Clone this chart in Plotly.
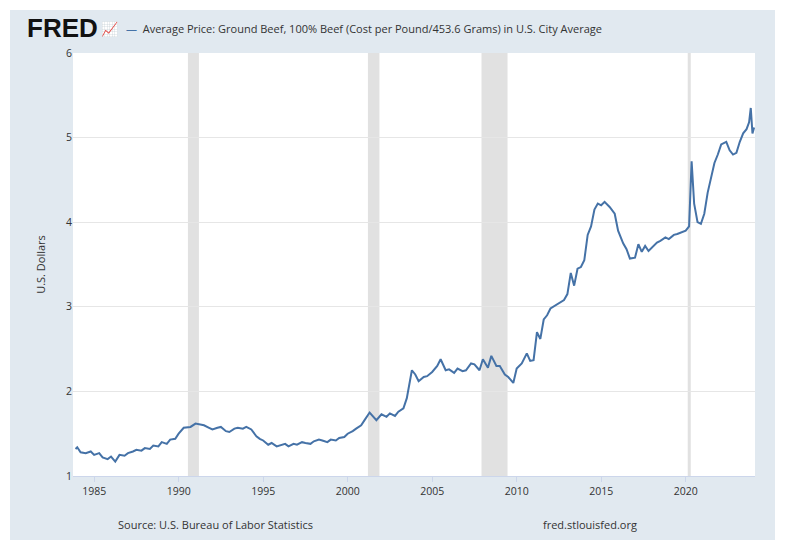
import plotly.graph_objects as go

years = [1983.9,1984.0,1984.2,1984.5,1984.8,1985.0,1985.3,1985.5,1985.8,1986.0,1986.25,1986.5,1986.8,1987.0,1987.3,1987.5,1987.8,1988.0,1988.3,1988.5,1988.8,1989.0,1989.3,1989.5,1989.8,1990.0,1990.3,1990.7,1991.0,1991.3,1991.5,1991.8,1992.0,1992.3,1992.5,1992.8,1993.0,1993.3,1993.5,1993.8,1994.0,1994.3,1994.6,1994.8,1995.0,1995.3,1995.5,1995.8,1996.0,1996.3,1996.5,1996.8,1997.0,1997.3,1997.5,1997.8,1998.0,1998.3,1998.5,1998.8,1999.0,1999.3,1999.5,1999.8,2000.0,2000.3,2000.5,2000.8,2001.0,2001.3,2001.7,2002.0,2002.3,2002.5,2002.8,2003.0,2003.3,2003.5,2003.8,2004.0,2004.2,2004.5,2004.7,2005.0,2005.3,2005.5,2005.8,2006.0,2006.3,2006.5,2006.8,2007.0,2007.3,2007.5,2007.8,2008.0,2008.3,2008.5,2008.8,2009.0,2009.3,2009.5,2009.8,2010.0,2010.3,2010.6,2010.8,2011.0,2011.2,2011.4,2011.6,2011.8,2012.0,2012.3,2012.5,2012.8,2013.0,2013.2,2013.4,2013.6,2013.8,2014.0,2014.2,2014.4,2014.6,2014.8,2015.0,2015.2,2015.5,2015.8,2016.0,2016.3,2016.5,2016.7,2017.0,2017.2,2017.4,2017.6,2017.8,2018.0,2018.3,2018.5,2018.8,2019.0,2019.3,2019.5,2019.8,2020.0,2020.2,2020.35,2020.5,2020.7,2020.9,2021.1,2021.3,2021.5,2021.7,2021.9,2022.1,2022.4,2022.6,2022.8,2023.0,2023.2,2023.4,2023.6,2023.75,2023.85,2023.95,2024.05]
prices = [1.32,1.34,1.28,1.27,1.29,1.25,1.27,1.22,1.20,1.23,1.17,1.25,1.24,1.27,1.29,1.31,1.30,1.33,1.32,1.36,1.35,1.40,1.38,1.43,1.44,1.50,1.57,1.58,1.62,1.61,1.60,1.57,1.55,1.57,1.58,1.53,1.52,1.56,1.57,1.56,1.58,1.55,1.47,1.44,1.42,1.37,1.39,1.35,1.36,1.38,1.35,1.38,1.37,1.40,1.39,1.38,1.41,1.43,1.42,1.40,1.43,1.42,1.45,1.46,1.50,1.53,1.56,1.60,1.66,1.75,1.66,1.73,1.70,1.74,1.71,1.76,1.80,1.92,2.25,2.20,2.12,2.17,2.18,2.23,2.30,2.38,2.25,2.26,2.22,2.27,2.24,2.25,2.33,2.32,2.25,2.38,2.28,2.42,2.30,2.30,2.20,2.17,2.10,2.27,2.33,2.45,2.36,2.37,2.70,2.62,2.85,2.90,2.98,3.02,3.05,3.08,3.15,3.40,3.25,3.45,3.47,3.55,3.85,3.95,4.15,4.22,4.20,4.24,4.18,4.10,3.90,3.75,3.68,3.57,3.58,3.74,3.65,3.72,3.66,3.70,3.76,3.78,3.82,3.80,3.85,3.86,3.88,3.90,3.95,4.72,4.22,4.00,3.98,4.10,4.35,4.52,4.70,4.80,4.92,4.95,4.85,4.80,4.82,4.95,5.05,5.10,5.18,5.35,5.05,5.12]
recessions = [(1990.55, 1991.2), (2001.2, 2001.88), (2007.92, 2009.46), (2020.12, 2020.3)]
tick_years = [1985, 1990, 1995, 2000, 2005, 2010, 2015, 2020]
y_ticks = [1, 2, 3, 4, 5, 6]

PW, PH = 682, 423  # plot area size
fig = go.Figure()
fig.add_trace(go.Scatter(x=years, y=prices, mode="lines",
                         line=dict(color="#4572a7", width=2), showlegend=False))

shapes = [dict(type="rect", xref="paper", yref="paper", x0=-63/PW, x1=702/PW,
               y0=-64/PH, y1=466/PH, fillcolor="#e1e9f0", line_width=0, layer="below"),
          dict(type="rect", xref="paper", yref="paper", x0=0, x1=1, y0=0, y1=1,
               fillcolor="white", line_width=0, layer="below")]
for a, b in recessions:
    shapes.append(dict(type="rect", xref="x", yref="paper", x0=a, x1=b, y0=0, y1=1,
                       fillcolor="#e1e1e1", line_width=0, layer="below"))

ty = 448 / PH
fig.update_layout(
    width=774, height=544, paper_bgcolor="white", plot_bgcolor="rgba(0,0,0,0)",
    margin=dict(l=65, r=27, t=45, b=76, autoexpand=False),
    font=dict(family="Open Sans", size=11, color="#333"),
    shapes=shapes,
    xaxis=dict(range=[1983.75, 2024.1], tickvals=tick_years, ticktext=[str(t) for t in tick_years],
               showgrid=False, zeroline=False, ticks="outside", ticklen=5, tickcolor="#ccd6eb",
               showline=True, linecolor="#ccd6eb", tickfont=dict(size=10.5), automargin=False),
    yaxis=dict(range=[1, 6], tickvals=y_ticks, showgrid=True, gridcolor="#e6e6e6",
               zeroline=False, ticks="", tickfont=dict(size=10.5), automargin=False,
               title=dict(text="U.S. Dollars", font=dict(size=11), standoff=18)),
    annotations=[
        dict(text="<b>FRED</b>", xref="paper", yref="paper", showarrow=False,
             x=-48/PW, y=ty, xanchor="left", yanchor="middle",
             font=dict(size=26, color="#111", family="Liberation Sans")),
        dict(text="📈", xref="paper", yref="paper", showarrow=False, x=26/PW, y=ty,
             xanchor="left", yanchor="middle", font=dict(size=14, color="#6b8e23")),
        dict(text="<span style='color:#4572a7'>—</span>  Average Price: Ground Beef, 100% Beef (Cost per Pound/453.6 Grams) in U.S. City Average",
             xref="paper", yref="paper", showarrow=False, x=51/PW, y=ty,
             xanchor="left", yanchor="middle", font=dict(size=11, color="#333")),
        dict(text="Source: U.S. Bureau of Labor Statistics", xref="paper", yref="paper", showarrow=False,
             x=142/PW, y=-48/PH, xanchor="center", yanchor="middle", font=dict(size=11)),
        dict(text="fred.stlouisfed.org", xref="paper", yref="paper", showarrow=False,
             x=517/PW, y=-48/PH, xanchor="center", yanchor="middle", font=dict(size=11)),
    ],
)
fig.write_html("out.html")
